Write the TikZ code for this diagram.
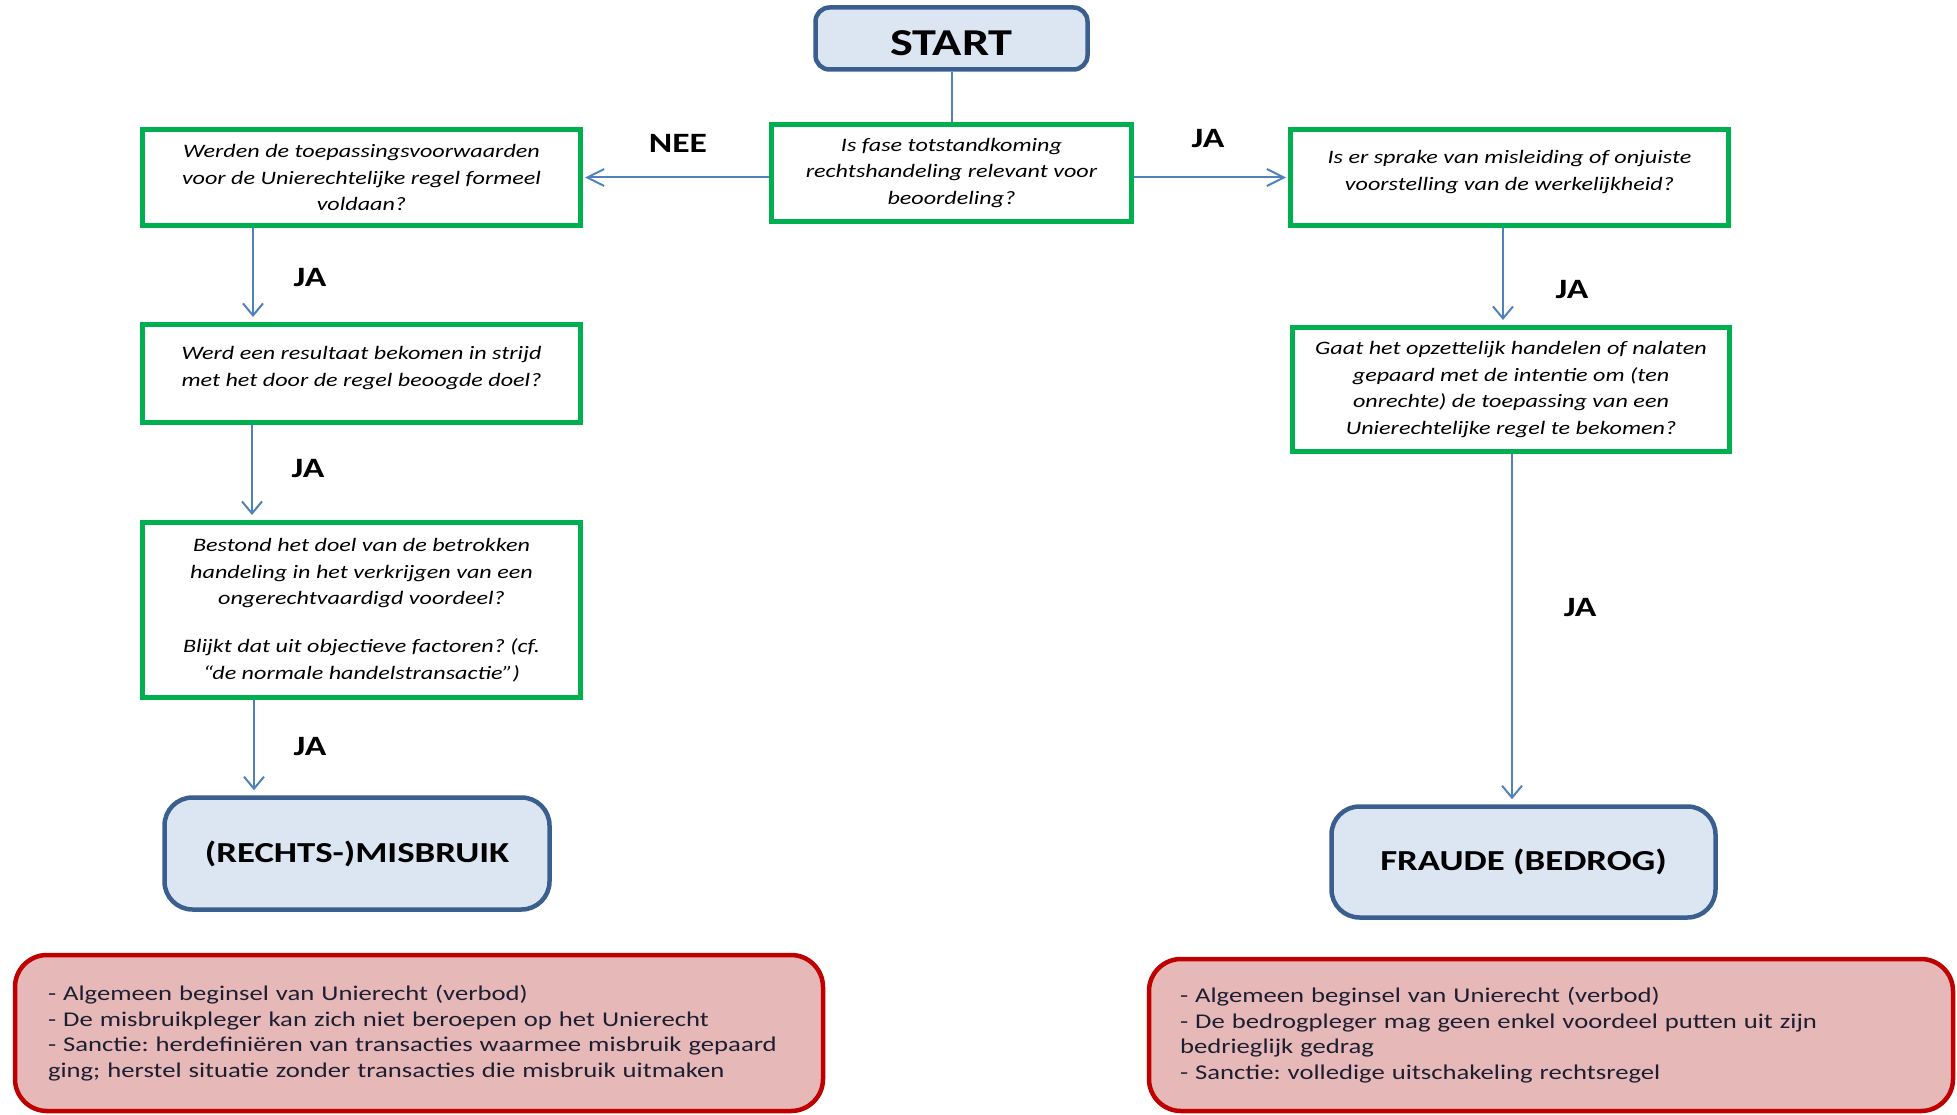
\documentclass[tikz,border=0pt]{standalone}
\usepackage{fontspec}
\setmainfont[FakeStretch=1.27]{Carlito}
\frenchspacing
\usetikzlibrary{arrows.meta,shadows}
\definecolor{arrowblue}{HTML}{4F81BD}
\definecolor{boxblue}{HTML}{DCE6F2}
\definecolor{boxblueline}{HTML}{3A5F8E}
\definecolor{qgreen}{HTML}{00B050}
\definecolor{notefill}{HTML}{E6B9B8}
\definecolor{notered}{HTML}{C00000}
\definecolor{notetext}{HTML}{1E1E32}
\begin{document}
\begin{tikzpicture}[x=1pt,y=-1pt,
  question/.style={draw=qgreen, line width=5pt, fill=white, align=center, inner sep=0pt,
    font=\itshape\fontsize{19}{26.7}\selectfont,
    drop shadow={opacity=0.25,shadow xshift=2pt,shadow yshift=-2pt}},
  outcome/.style={draw=boxblueline, line width=4.5pt, fill=boxblue, rounded corners=28pt,
    align=center, inner sep=0pt, font=\bfseries\fontsize{29}{32}\selectfont},
  note/.style={draw=notered, line width=4.5pt, fill=notefill, rounded corners=32pt,
    align=left, text=notetext, font=\fontsize{21}{25.6}\selectfont},
  lbl/.style={font=\bfseries\fontsize{28}{30}\selectfont, inner sep=0pt},
  conn/.style={draw=arrowblue, line width=2pt},
  harr/.style={conn, shorten >=2pt, -{Straight Barb[length=17pt,width=17pt,line width=2pt]}},
  varr/.style={conn, shorten >=5pt, -{Straight Barb[length=12pt,width=20pt,line width=2pt]}}
]
\useasboundingbox (0,0) rectangle (1957,1115);

% start
\node[outcome, rounded corners=14pt, minimum width=272pt, minimum height=62pt,
  text height=34pt, text depth=0pt,
  font=\bfseries\fontsize{38}{42}\selectfont] (start) at (951.5,38.5) {START};

% questions
\node[question, minimum width=360pt, minimum height=97pt] (q0) at (951.5,173)
  {Is fase totstandkoming\\rechtshandeling relevant voor\\beoordeling?};
\node[question, minimum width=438pt, minimum height=96pt] (q1) at (361.5,177.5)
  {Werden de toepassingsvoorwaarden\\voor de Unierechtelijke regel formeel\\voldaan?};
\node[question, minimum width=438pt, minimum height=98pt] (q2) at (361.5,373.5)
  {Werd een resultaat bekomen in strijd\\met het door de regel beoogde doel?\\[-12pt]\mbox{}};
\node[question, minimum width=438pt, minimum height=175pt] (q3) at (361.5,610)
  {Bestond het doel van de betrokken\\handeling in het verkrijgen van een\\ongerechtvaardigd voordeel?\\[21pt]Blijkt dat uit objectieve factoren? (cf.\\“de normale handelstransactie”)};
\node[question, minimum width=438pt, minimum height=96pt] (r1) at (1509.5,177.5)
  {Is er sprake van misleiding of onjuiste\\voorstelling van de werkelijkheid?\\[-12pt]\mbox{}};
\node[question, minimum width=437pt, minimum height=124pt] (r2) at (1511,389.5)
  {Gaat het opzettelijk handelen of nalaten\\gepaard met de intentie om (ten\\onrechte) de toepassing van een\\Unierechtelijke regel te bekomen?};

% outcomes
\node[outcome, minimum width=385pt, minimum height=112pt] (misbruik) at (357,853.5) {(RECHTS-)MISBRUIK};
\node[outcome, minimum width=384pt, minimum height=111pt] (fraude) at (1523.5,862) {FRAUDE (BEDROG)};

% notes
\node[note, minimum width=808pt, minimum height=156pt, inner xsep=33pt, text width=742pt] (n1) at (419,1033)
  {- Algemeen beginsel van Unierecht (verbod)\\
   - De misbruikpleger kan zich niet beroepen op het Unierecht\\
   - Sanctie: herdefiniëren van transacties waarmee misbruik gepaard\\
   ging; herstel situatie zonder transacties die misbruik uitmaken};
\node[note, minimum width=804pt, minimum height=152pt, inner xsep=31pt, text width=742pt] (n2) at (1551,1035)
  {- Algemeen beginsel van Unierecht (verbod)\\
   - De bedrogpleger mag geen enkel voordeel putten uit zijn\\
   bedrieglijk gedrag\\
   - Sanctie: volledige uitschakeling rechtsregel};

% connectors
\draw[conn] (start) -- (q0);
\draw[harr] (q0.west |- q1.east) -- (q1.east);
\draw[harr] (q0.east |- r1.west) -- (r1.west);
\draw[varr] ([xshift=-108.5pt]q1.south) -- ([xshift=-108.5pt]q1.south |- q2.north);
\draw[varr] ([xshift=-109.5pt]q2.south) -- ([xshift=-109.5pt]q2.south |- q3.north);
\draw[varr] ([xshift=-107.5pt]q3.south) -- ([xshift=-107.5pt]q3.south |- misbruik.north);
\draw[varr] ([xshift=-6.5pt]r1.south) -- ([xshift=-6.5pt]r1.south |- r2.north);
\draw[varr] ([xshift=1pt]r2.south) -- ([xshift=1pt]r2.south |- fraude.north);

% labels
\node[lbl] (nee) at (678,143) {NEE};
\node[lbl] (jar0) at (1208,139) {JA};
\node[lbl] (ja1) at (310,278) {JA};
\node[lbl] (ja2) at (308,469) {JA};
\node[lbl] (ja3) at (310,747) {JA};
\node[lbl] (jar1) at (1572,290) {JA};
\node[lbl] (jar2) at (1580,608) {JA};
\end{tikzpicture}
\end{document}
